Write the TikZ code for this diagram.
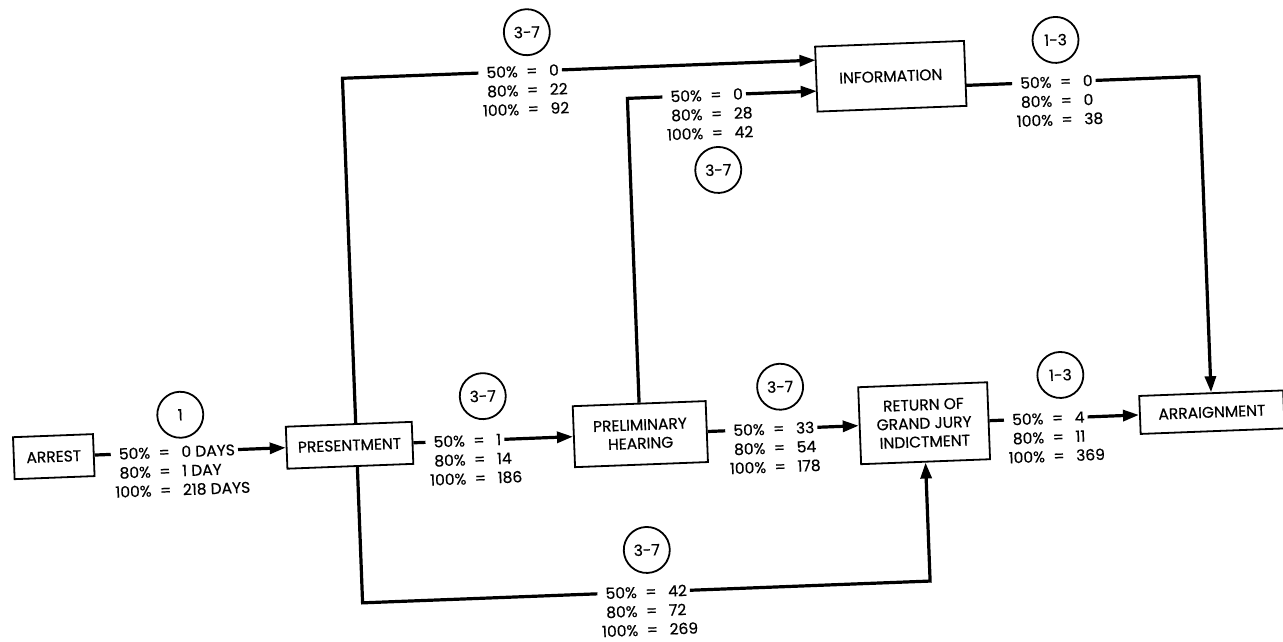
\documentclass[tikz,border=0pt]{standalone}
\usepackage{fontspec}
\setmainfont{Poppins}[FakeBold=0.5]
\usetikzlibrary{arrows.meta}
\newcommand\pq[2]{\phantom{100\%}\llap{#1}\hspace{0.55em}=\hspace{0.75em}#2}
\begin{document}
\begin{tikzpicture}[x=1pt,y=-1pt,
  box/.style={draw, line width=1.8pt, fill=white, align=center, font=\fontsize{15.5}{18.5}\selectfont, inner sep=2pt},
  lt/.style={anchor=west, inner xsep=3pt, inner ysep=0pt, text height=11pt, text depth=0pt, font=\fontsize{15.5}{17}\selectfont},
  num/.style={draw, circle, line width=1.8pt, minimum size=46pt, inner sep=0pt, font=\fontsize{15.5}{17}\selectfont},
  conn/.style={line width=3.2pt, line join=miter},
  arr/.style={conn, -{Triangle[length=16pt,width=11pt]}}
]
\useasboundingbox (0,0) rectangle (1283,642);
\fill[white] (0,0) rectangle (1283,642);
\begin{scope}[rotate around={2.2:(641.5,321)}, transform shape]
% boxes
\node[box, minimum width=80pt, minimum height=42pt] (arrest) at (49,434) {ARREST};
\node[box, minimum width=126pt, minimum height=42pt] (present) at (345,434) {PRESENTMENT};
\node[box, minimum width=133pt, minimum height=61pt] (prelim) at (636,434) {PRELIMINARY\\HEARING};
\node[box, minimum width=129pt, minimum height=77pt] (return) at (920,434) {RETURN OF\\GRAND JURY\\INDICTMENT};
\node[box, minimum width=144pt, minimum height=38pt] (arraign) at (1208,434) {ARRAIGNMENT};
\node[box, minimum width=149pt, minimum height=65pt] (info) at (900,86) {INFORMATION};
% circles
\node[num] (c1) at (177,397) {1};
\node[num] (cpp) at (480,390) {3-7};
\node[num] (cpr) at (777.5,392) {3-7};
\node[num] (cra) at (1058,391) {1-3};
\node[num] (cpi) at (538,28) {3-7};
\node[num] (chi) at (724,173) {3-7};
\node[num] (cia) at (1066,56) {1-3};
\node[num] (cpb) at (638,550) {3-7};
% labels
\node[lt] (ap1) at (106,434) {\pq{50\%}{0 DAYS}};
\node[lt] (ap2) at (106,453) {\pq{80\%}{1 DAY}};
\node[lt] (ap3) at (106,472) {\pq{100\%}{218 DAYS}};
\node[lt] (pp1) at (421,434) {\pq{50\%}{1}};
\node[lt] (pp2) at (421,453) {\pq{80\%}{14}};
\node[lt] (pp3) at (421,472) {\pq{100\%}{186}};
\node[lt] (pr1) at (721,434) {\pq{50\%}{33}};
\node[lt] (pr2) at (721,453) {\pq{80\%}{54}};
\node[lt] (pr3) at (721,472) {\pq{100\%}{178}};
\node[lt] (ra1) at (1000,434) {\pq{50\%}{4}};
\node[lt] (ra2) at (1000,453) {\pq{80\%}{11}};
\node[lt] (ra3) at (1000,472) {\pq{100\%}{369}};
\node[lt] (pi1) at (488,67) {\pq{50\%}{0}};
\node[lt] (pi2) at (488,86) {\pq{80\%}{22}};
\node[lt] (pi3) at (488,105) {\pq{100\%}{92}};
\node[lt] (hi1) at (671,98) {\pq{50\%}{0}};
\node[lt] (hi2) at (671,117) {\pq{80\%}{28}};
\node[lt] (hi3) at (671,136) {\pq{100\%}{42}};
\node[lt] (ia1) at (1021,98) {\pq{50\%}{0}};
\node[lt] (ia2) at (1021,117) {\pq{80\%}{0}};
\node[lt] (ia3) at (1021,136) {\pq{100\%}{38}};
\node[lt] (pb1) at (587,592) {\pq{50\%}{42}};
\node[lt] (pb2) at (587,611) {\pq{80\%}{72}};
\node[lt] (pb3) at (587,630) {\pq{100\%}{269}};
% helper coordinates
\coordinate (pTop) at (352,413);
\coordinate (pT) at (352,67);
\coordinate (pBot) at (352,455);
\coordinate (pB) at (352,592);
\coordinate (iA) at (825.5,67);
\coordinate (iB) at (825.5,98);
\coordinate (hC) at (636,98);
\coordinate (iC) at (974.5,98);
\coordinate (aC) at (1208,98);
\coordinate (rC) at (920,592);
% connectors
\draw[conn] (arrest.east) -- (ap1.west);
\draw[arr] (ap1.east) -- (present.west);
\draw[conn] (present.east) -- (pp1.west);
\draw[arr] (pp1.east) -- (prelim.west);
\draw[conn] (prelim.east) -- (pr1.west);
\draw[arr] (pr1.east) -- (return.west);
\draw[conn] (return.east) -- (ra1.west);
\draw[arr] (ra1.east) -- (arraign.west);
\draw[conn] (pTop) -- (pT) -- (pi1.west);
\draw[arr] (pi1.east) -- (iA);
\draw[conn] (prelim.north) -- (hC) -- (hi1.west);
\draw[arr] (hi1.east) -- (iB);
\draw[conn] (iC) -- (ia1.west);
\draw[arr] (ia1.east) -- (aC) -- (arraign.north);
\draw[conn] (pBot) -- (pB) -- (pb1.west);
\draw[arr] (pb1.east) -- (rC) -- (return.south);
\end{scope}
\end{tikzpicture}
\end{document}
